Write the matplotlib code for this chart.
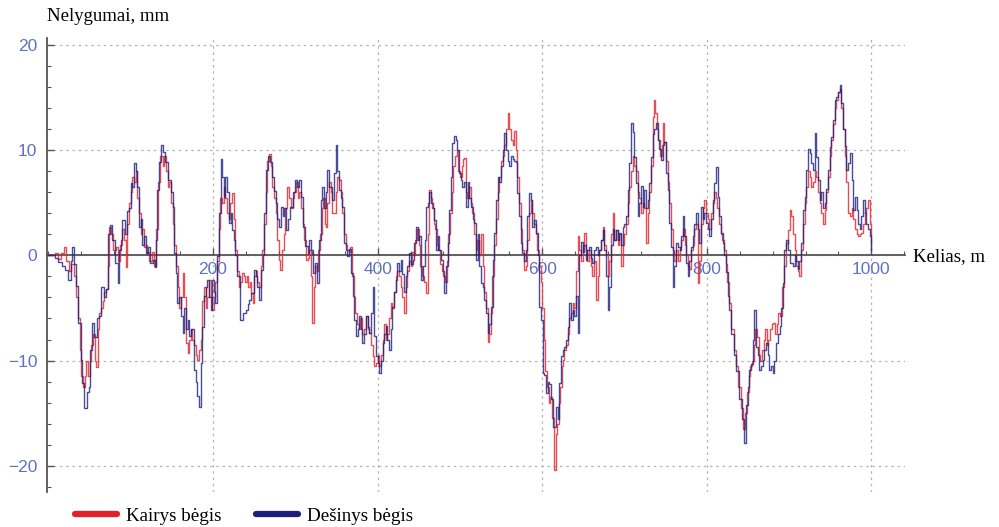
import numpy as np
import matplotlib
matplotlib.use("Agg")
import matplotlib.pyplot as plt
from matplotlib.ticker import MultipleLocator, FixedLocator
from matplotlib.lines import Line2D

# Dešinys bėgis (right rail) - distance, m / irregularity, mm
right_x = [0, 5, 10, 14, 18, 22, 26, 28, 30, 32, 34, 38, 40, 42, 45, 48, 50, 52, 54, 57,
           60, 62, 66, 68, 71, 74, 76, 79, 83, 85, 87, 89, 91, 94, 97, 99, 101, 103, 105, 107,
           109, 111, 113, 115, 117, 119, 122, 125, 128, 130, 131.5, 133, 135.5, 137.5, 140, 143.5, 147, 150, 152, 154,
           156, 157.5, 160, 162, 164, 166, 168, 170, 172, 175, 178, 180, 182, 184, 186, 188, 190, 192, 194, 196,
           198, 200, 202, 204, 206, 208.5, 210.5, 212, 213.5, 216.5, 218, 220.5, 222, 224, 226.5, 228, 231, 235, 238, 241,
           243, 245, 248, 251, 253, 255, 257.5, 259, 261.5, 263, 266, 268.5, 271, 273, 275, 277, 279, 281, 283.5, 285.5,
           287, 289.5, 292, 295.5, 298, 300.5, 303, 306, 308, 310, 314, 316, 318, 320, 322, 325, 328, 330, 332, 334,
           336, 338, 340, 343, 346, 348, 350, 352, 354, 356, 358, 360.5, 362, 364.5, 366, 368.6, 370.6, 372.6, 374.7, 376.5,
           378.7, 380.5, 382.7, 385, 387, 389, 391, 393, 395, 397, 399, 401, 403, 405, 407, 409, 411, 413, 415, 417,
           419, 421, 423, 425, 427, 429, 431, 433, 435, 437.5, 439.5, 441.5, 443.5, 445.5, 447.7, 449.7, 451.7, 453.7, 456, 458,
           460, 462, 464, 466, 468, 470, 472, 474, 476, 478, 480, 482, 484, 486, 488, 490, 492, 494, 496, 498,
           500, 502, 504, 506, 508.5, 510, 512, 514.5, 516.5, 518.5, 520.6, 522.6, 524.6, 526.7, 528.7, 530.7, 532.7, 534.7, 536.5, 538.8,
           540.8, 542.9, 545, 547, 549, 551, 553, 555, 557, 559, 561, 563, 565, 567, 569, 571, 573, 575, 577, 579,
           581, 583, 585, 587, 589, 591, 593.5, 595.5, 597.5, 599.6, 601.6, 603.6, 605.7, 607.7, 609.7, 611.8, 613.8, 615.8, 617.9, 620,
           622, 624, 626, 628, 630, 632, 634, 636, 638, 640, 642, 644, 646, 648, 650, 652, 654, 656, 658, 660,
           662, 664, 666.5, 668.5, 670.6, 672.6, 674.6, 676.6, 678.7, 680.6, 682.6, 684.7, 686.7, 688.7, 690.8, 692.8, 694.8, 697, 698.9, 701,
           703, 705, 707, 709, 711, 713, 715, 717, 719, 721, 723, 725, 727, 729, 731, 733.4, 735.3, 737.4, 739.4, 741.5,
           743.5, 745.5, 747.5, 749.6, 751.6, 753.6, 755.6, 757.7, 759.7, 761.8, 763.8, 766, 768, 770, 771.8, 774, 775.9, 778, 780, 782,
           784, 786, 788, 790, 792, 794, 796, 798, 800, 802, 804, 806, 808.3, 810.3, 812.4, 814.4, 816.4, 818.4, 820.4, 822.5,
           824.6, 826.5, 828.6, 831, 834, 837, 840.7, 844.7, 846.8, 848.8, 850.8, 852.9, 855, 857, 858.9, 861, 863, 865, 867, 869,
           871, 873, 875, 877.2, 879, 881, 883, 885.4, 887.4, 889.4, 891.4, 893.4, 895.5, 897.6, 899.6, 901.6, 903.7, 905.7, 907.8, 909.8,
           911.6, 913.7, 915.8, 917.7, 920, 922, 924, 926, 928, 930, 932, 934, 936, 938.2, 940, 942.3, 944.3, 946.3, 948.3, 950.4,
           952.4, 954.4, 956.3, 958.5, 960.5, 962.6, 964.7, 966.7, 968.7, 970.8, 972.9, 974.9, 976.9, 979, 981, 983, 985, 987, 989, 991,
           993, 995, 997, 999, 1000]
right_y = [0, 0, -0.2, -0.6, -1.0, -1.4, -2.3, -0.5, 0.8, -0.8, -2.9, -6.4, -9.9, -12.1, -14.5, -13.0, -12.5, -9.0, -6.4, -7.8,
           -6.0, -5.8, -3.0, -4.0, -3.2, 2.0, 2.9, 1.5, -0.7, -2.6, 0.5, 1.5, 3.4, 2.0, 4.2, 4.5, 6.9, 6.5, 8.8, 8.0,
           6.5, 2.7, 3.5, 1.0, 1.8, 0.2, 0.8, -0.7, -0.4, -1.1, 1.5, 6.2, 8.9, 10.5, 9.8, 8.9, 7.2, 6.0, 4.6, 0.2,
           -1.7, -4.5, -4.0, -5.8, -7.4, -5.0, -7.0, -6.1, -7.7, -7.0, -10.9, -12.0, -13.4, -14.4, -10.2, -6.8, -3.9, -3.0, -2.3, -4.0,
           -5.2, -2.3, -3.5, -4.5, -0.1, 4.0, 9.2, 7.5, 5.6, 7.5, 6.0, 3.1, 4.0, 2.4, 1.5, 0, -2.0, -6.1, -5.5, -5.2,
           -4.6, -4.2, -3.6, -1.4, -2.0, -3.0, -4.2, -1.4, 0, 4.0, 8.1, 9.5, 8.9, 7.5, 6.1, 5.0, 3.5, 2.7, 4.6, 3.7,
           4.5, 2.4, 3.5, 4.6, 6.0, 7.2, 6.5, 7.2, 5.6, 2.7, 0.9, 0.2, 1.5, 0.5, -1.7, -0.7, -2.6, 1.5, 5.3, 6.5,
           4.5, 6.0, 8.1, 6.5, 5.3, 7.8, 10.5, 8.0, 6.2, 5.5, 4.6, 1.2, 0.5, -0.1, 0.6, -1.7, -3.9, -6.1, -7.7, -7.0,
           -5.8, -7.0, -8.3, -7.5, -5.8, -6.8, -7.4, -5.5, -3.0, -7.7, -9.6, -10.2, -11.2, -10.0, -8.3, -7.5, -6.7, -8.0, -9.0, -7.0,
           -4.9, -3.5, -2.3, -0.7, -1.5, -0.4, -1.8, -3.5, -2.0, -1.0, 0.2, -0.8, -0.4, 1.2, 2.7, 1.5, 1.8, -2.3, -1.0, 1.5,
           4.6, 5.0, 6.0, 5.0, 4.5, 3.4, 0.5, 1.8, 0.5, -0.4, -1.5, -3.6, -1.0, 1.2, 4.3, 7.5, 10.7, 11.4, 11.0, 10.0,
           7.8, 7.2, 6.5, 7.0, 4.6, 7.0, 5.5, 4.6, 3.5, 3.1, -0.4, 2.0, -1.0, -2.6, -3.0, -4.2, -5.5, -7.4, -6.5, -4.9,
           -0.4, 2.1, 5.3, 7.5, 7.0, 8.5, 10.0, 11.6, 10.0, 9.0, 8.5, 9.5, 9.2, 9.0, 8.9, 5.9, 3.7, 1.2, 0.2, -0.5,
           0.5, 3.7, 5.9, 5.3, 2.7, 3.4, 2.1, 0, -4.9, -6.1, -11.2, -11.4, -13.1, -12.0, -12.2, -13.7, -16.3, -16.3, -14.4, -15.6,
           -12.1, -9.6, -9.0, -8.7, -8.0, -6.8, -4.5, -6.1, -5.2, -5.8, -3.9, -7.4, 0, 1.3, 0.3, 1.0, -0.4, 0.5, 0.8, -0.2,
           -0.7, 0.5, 0.8, 0.0, 0.5, 1.5, 2.4, 0.5, -2.0, -5.2, -3.0, 1.0, 2.5, 1.5, 2.4, 1.5, 2.1, 1.0, 2.7, 3.0,
           3.7, 6.2, 8.8, 12.6, 11.7, 9.4, 6.9, 3.7, 5.0, 6.6, 4.6, 6.2, 4.5, 5.3, 6.9, 9.4, 11.5, 12.0, 12.6, 11.0,
           10.1, 9.1, 10.5, 10.8, 7.8, 6.2, 3.1, 0.8, -3.0, -1.0, 1.2, 0.8, 0.5, 1.8, 3.7, 1.8, -0.7, -2.0, -0.5, 0.8,
           1.8, 3.0, 4.0, 2.5, 1.2, 4.6, 3.5, 4.0, 3.1, 2.5, 1.8, 3.5, 5.3, 6.9, 8.4, 5.6, 3.7, 2.1, 1.2, 0,
           -1.6, -3.9, -5.2, -7.5, -9.5, -11.0, -13.7, -15.6, -17.8, -14.2, -12.5, -10.9, -10.3, -8.0, -5.2, -8.7, -9.5, -10.9, -10.5, -9.9,
           -9.0, -8.3, -9.5, -10.9, -10.5, -11.2, -10.0, -8.3, -7.5, -6.7, -5.0, -2.6, 0.5, 1.5, 0.5, -0.7, -0.7, -1.0, 0, -0.5,
           -1.3, -0.5, 1.2, 4.3, 5.6, 8.1, 10.1, 9.7, 8.8, 8.1, 11.6, 9.4, 7.2, 5.3, 6.0, 4.5, 5.0, 6.3, 8.1, 10.3,
           11.3, 12.9, 14.8, 15.1, 15.5, 16.2, 14.5, 12.0, 10.4, 8.1, 8.8, 9.7, 7.2, 4.3, 5.6, 4.3, 3.0, 2.5, 3.7, 5.3,
           4.0, 3.0, 2.5, 1.8, 0.5]

# Kairys bėgis (left rail)
left_x = [0, 5, 10, 14, 17, 20, 23, 26, 29, 32, 35, 37, 39, 41, 43, 45, 47, 49, 51, 53,
          55, 57, 59, 61, 63, 65, 67, 69, 71, 73, 75, 77, 80, 83, 86, 88, 91, 93, 95, 97,
          99, 101, 103, 105, 107, 109, 111, 113, 115, 117, 119, 121, 124, 127, 130, 132, 134, 136, 138, 140,
          142, 144, 146, 148, 150, 152, 154, 156, 158, 160, 162, 164, 166, 168, 170, 172, 174, 176, 178, 180,
          182, 184, 186, 188, 190, 192, 194, 196, 198, 200, 202, 204, 206, 208, 210, 212, 214, 216, 218, 220,
          222, 224.5, 226, 228, 230, 232, 234, 236.5, 238, 240, 242, 244, 246, 247, 249, 251, 253, 255, 257, 259,
          261, 263, 265, 267, 269, 271, 273, 275, 277, 279, 281, 283, 285, 287, 289, 291.6, 293.5, 296, 298, 300,
          302, 304, 306, 308, 310, 312, 314, 316, 318, 320, 321.6, 323, 325, 327, 329, 331, 333, 335, 336.5, 338,
          340, 342, 344, 346, 348, 350, 352, 354, 356, 358, 360, 362, 364, 366, 368, 370, 372, 374, 376, 378,
          380, 382, 384, 386.8, 389, 391, 393, 395, 397, 399, 401, 403, 405, 407, 409, 411, 413, 415, 417, 419,
          421, 423, 425, 427, 429, 431, 433, 435, 437, 439, 441, 443, 445, 447, 449, 451, 453, 455, 457, 460,
          462, 463.8, 465, 467, 469, 471, 473, 475, 477, 479, 481, 483, 485, 487, 489, 491, 493, 495, 497, 499,
          501, 503, 504, 506, 508, 510, 512, 514, 516, 518, 520, 522, 524, 526.6, 528.5, 530.5, 532.5, 534.7, 536.5, 538.5,
          540.5, 542.5, 545, 547, 549, 551, 553, 555, 557, 559, 561, 563, 565, 567, 569, 571, 573, 575, 577, 579,
          581, 583, 585, 587, 589, 591, 593, 595, 597, 599, 601, 603, 605, 607, 609, 611, 613, 615.8, 617.5, 619,
          621, 623, 625, 626, 628, 630, 632, 634, 636, 638, 640, 642, 644, 646, 648, 650, 652, 654, 656, 658,
          660, 662, 664, 666.5, 668.5, 670.6, 672.6, 674.6, 676.6, 678.7, 680.6, 682.6, 684.7, 686.7, 688.7, 690.8, 692.8, 694.8, 697, 699,
          701, 703, 705, 707, 709, 711, 713, 715, 717, 719, 721, 723, 725, 727, 729, 731, 733.4, 735.3, 736, 738,
          740, 742, 744, 746, 747.5, 749.5, 751.6, 753.6, 755.6, 757.7, 759.7, 761.8, 763.8, 766, 768, 770, 772, 774, 776, 778,
          780, 782, 784, 786, 788, 790, 792, 794, 796, 798, 800, 802, 804, 806, 808, 810, 812, 814, 816, 818,
          820, 822, 824, 826, 828, 831, 834, 837, 840, 843, 846, 848, 850, 852, 854, 856, 858, 860, 862, 864,
          866, 868, 870, 872, 874, 876, 878, 880, 882, 884, 886, 888, 891, 893, 895, 897.6, 899.6, 901.5, 903.7, 905.7,
          907.8, 909.8, 911.6, 913.7, 915.8, 917.7, 920, 922, 924, 926, 928, 930, 932, 934, 936, 938, 940, 942.3, 944.3, 946.3,
          948.3, 950.4, 952.4, 954.4, 956.3, 958.5, 960.5, 962.6, 964.7, 966.7, 968.7, 970.8, 972.9, 974.9, 976.9, 979, 981, 983, 985, 987,
          989, 991, 993, 995, 997, 999, 1000]
left_y = [0, 0, 0.2, -0.3, 0.2, 0.8, -0.5, -1.5, -0.8, -2.0, -4.0, -6.0, -9.0, -11.5, -12.5, -11.5, -10.0, -11.5, -10.0, -8.5,
          -7.5, -10.0, -10.6, -7.0, -5.5, -5.0, -4.3, -3.5, -3.2, -1.0, 2.7, 2.0, 0.5, 0.8, -0.5, 1.0, 2.5, 1.5, -1.1, 3.0,
          5.0, 6.0, 7.5, 7.0, 8.0, 5.5, 4.0, 2.0, 2.5, 0.8, 1.0, 0.3, -0.5, 0.3, -1.0, 2.5, 7.0, 9.5, 9.5, 8.5,
          9.5, 8.0, 6.5, 7.0, 5.0, 3.0, 1.0, -1.0, -3.0, -5.0, -4.0, -1.7, -4.0, -8.3, -9.3, -8.0, -7.0, -8.0, -8.5, -9.5,
          -9.9, -9.0, -8.0, -4.3, -3.0, -5.0, -4.0, -2.3, -4.0, -5.2, -4.0, -2.5, -0.5, 2.5, 5.5, 5.0, 6.5, 5.5, 4.0, 3.5,
          5.0, 5.9, 3.5, 0.5, -1.5, -3.0, -2.5, -1.7, -2.0, -2.5, -2.0, -3.0, -2.5, -3.6, -4.5, -2.0, -1.5, -2.5, -3.0, -1.0,
          0.5, 3.0, 6.0, 9.0, 9.6, 8.5, 6.5, 5.5, 4.0, 1.5, -0.4, -1.4, 0.5, 2.0, 4.5, 6.5, 5.5, 4.5, 5.5, 6.0,
          7.0, 5.5, 6.0, 4.5, 3.0, 1.5, -0.4, -0.2, 0.5, -2.0, -6.4, -3.0, -1.0, -1.5, 0.5, 2.0, 4.5, 5.5, 3.0, 2.7,
          5.0, 7.0, 6.0, 4.0, 4.0, 6.0, 7.5, 7.2, 6.0, 4.0, 2.0, 1.0, 0.5, 0.3, 0.8, -2.0, -4.0, -5.5, -6.5, -7.0,
          -6.0, -7.5, -7.0, -5.8, -7.0, -7.4, -8.5, -9.6, -10.5, -10.2, -9.5, -10.5, -9.5, -8.0, -6.5, -8.0, -7.5, -6.0, -4.5, -5.0,
          -3.5, -2.0, -1.5, -2.0, -3.0, -4.0, -5.5, -3.0, -1.5, -0.5, -1.0, 0.3, 0.0, 1.5, 2.5, 1.0, -1.0, -2.0, -2.5, -3.6,
          2.0, 6.2, 5.5, 4.5, 3.0, 2.5, 1.0, 0.5, -0.8, -1.5, -2.0, -2.5, -0.5, 2.0, 4.0, 6.0, 8.5, 9.5, 10.0, 8.0,
          7.5, 8.5, 9.2, 9.3, 6.0, 5.5, 6.5, 5.0, 4.0, 2.0, 0.5, 1.5, 0.0, 2.0, -1.0, -3.5, -5.0, -8.2, -7.5, -5.5,
          -2.0, 1.0, 3.5, 6.0, 7.5, 9.0, 9.5, 10.5, 12.0, 13.5, 12.0, 11.0, 10.5, 11.8, 10.0, 7.5, 5.0, 2.5, 0.5, -1.4,
          -1.0, 1.5, 4.0, 5.3, 4.0, 3.0, 2.0, 0.5, -1.0, -2.5, -5.0, -8.0, -11.0, -12.5, -14.0, -13.5, -15.5, -20.4, -17.0, -16.0,
          -14.0, -12.5, -10.5, -9.9, -9.0, -8.5, -7.5, -6.0, -5.5, -4.5, -5.0, -1.5, 1.8, 0.5, -0.5, 1.0, 2.1, 0.5, -0.5, 0.5,
          -1.0, -2.0, -0.5, -4.2, -2.0, 0.5, 1.5, 2.7, 1.0, 0.0, -2.0, -0.5, 2.0, 4.0, 1.5, 2.4, 1.0, 2.0, -1.0, 1.0,
          2.0, 3.0, 5.0, 6.5, 8.0, 9.5, 8.5, 8.0, 6.0, 5.5, 4.0, 5.0, 4.5, 1.2, 4.0, 6.0, 8.5, 13.2, 14.8, 13.5,
          12.0, 11.0, 9.5, 10.5, 12.6, 10.8, 9.0, 7.0, 5.0, 2.5, 0.5, -0.5, 0.5, -0.5, 0.8, 1.5, 2.5, 1.0, 0.0, -1.0,
          -1.3, 0.5, 1.0, 2.5, 3.0, -2.6, -0.5, 3.0, 4.5, 5.3, 4.0, 3.5, 2.5, 4.0, 5.0, 6.0, 5.5, 4.5, 3.0, 2.0,
          1.5, 0.5, -0.8, -2.5, -4.5, -7.0, -9.0, -10.5, -12.5, -14.5, -16.5, -15.0, -13.0, -11.5, -10.5, -10.0, -8.5, -7.0, -7.8, -9.5,
          -10.0, -9.0, -8.0, -7.0, -8.5, -8.0, -7.0, -6.5, -6.4, -7.5, -6.5, -5.5, -5.8, -3.0, -1.0, 1.2, 2.4, 4.3, 3.7, 2.0,
          0.5, -1.0, -1.5, -2.0, 0.5, 3.0, 5.0, 6.5, 8.0, 7.5, 6.5, 7.0, 8.0, 7.5, 6.0, 5.0, 4.0, 3.0, 4.3, 6.0,
          7.5, 9.5, 11.0, 12.5, 14.0, 14.8, 15.5, 15.8, 14.0, 12.0, 9.5, 7.0, 4.0, 3.7, 4.5, 3.5, 2.5, 2.0, 1.8, 2.0,
          2.1, 3.0, 4.0, 4.5, 5.3, 3.0, 1.0]

x_major = [200, 400, 600, 800, 1000]
y_major = [-20, -10, 0, 10, 20]
y_labels = ["\u221220", "\u221210", "0", "10", "20"]

red = "#e3202b"
navy = "#1c1f7c"
tick_col = "#5e72c2"

fig = plt.figure(figsize=(9.99, 5.27), dpi=100)
ax = fig.add_axes([0.047, 0.0664, 0.859, 0.862])

ax.plot(left_x, left_y, color=red, lw=1.0, alpha=0.8, zorder=3, drawstyle="steps-mid")
ax.plot(right_x, right_y, color=navy, lw=1.0, alpha=0.8, zorder=4, drawstyle="steps-mid")

ax.set_xlim(-1.8, 1041)
ax.set_ylim(-22.5, 20.7)

for s in ["top", "right"]:
    ax.spines[s].set_visible(False)
ax.spines["bottom"].set_position(("data", 0))
for s in ["bottom", "left"]:
    ax.spines[s].set_color("#555555")
    ax.spines[s].set_linewidth(1.3)
    ax.spines[s].set_zorder(2.5)

ax.xaxis.set_major_locator(FixedLocator(x_major))
ax.xaxis.set_minor_locator(MultipleLocator(40))
ax.set_yticks(y_major)
ax.set_yticklabels(y_labels)
ax.yaxis.set_minor_locator(MultipleLocator(2))

ax.tick_params(axis="both", which="major", direction="in", length=5, width=1.0,
               color="#555555", labelsize=12.5, labelcolor=tick_col)
ax.tick_params(axis="both", which="minor", direction="in", length=3, width=0.8, color="#555555")
ax.tick_params(axis="x", pad=5)
ax.tick_params(axis="y", pad=7)
for lab in ax.get_xticklabels() + ax.get_yticklabels():
    lab.set_family("Liberation Sans")

ax.grid(True, which="major", color="#b4b4b4", lw=0.9, ls=(0, (2, 3)))
ax.set_axisbelow(True)

fig.text(0.047, 0.968, "Nelygumai, mm", family="Liberation Serif", fontsize=13.5,
         va="center", ha="left")
fig.text(0.914, 0.514, "Kelias, m", family="Liberation Serif", fontsize=13.5,
         va="center", ha="left")

handles = [Line2D([], [], color=red, lw=4.5, solid_capstyle="round"),
           Line2D([], [], color=navy, lw=4.5, solid_capstyle="round")]
fig.legend(handles, ["Kairys b\u0117gis", "De\u0161inys b\u0117gis"], loc="center",
           bbox_to_anchor=(0.2445, 0.02), ncol=2, frameon=False, handlelength=2.2,
           handletextpad=0.5, columnspacing=1.8,
           prop={"family": "Liberation Serif", "size": 13.7})

fig.savefig("out.png", dpi=100)
